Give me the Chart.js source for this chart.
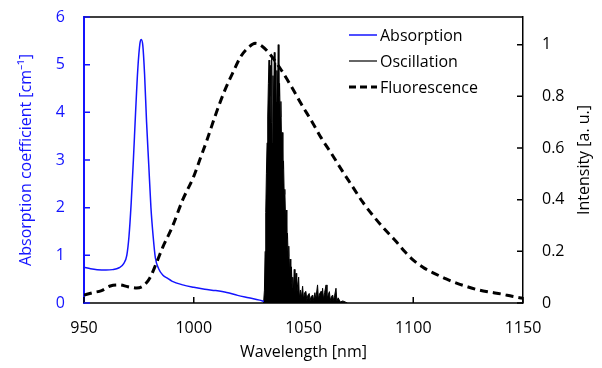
<!DOCTYPE html>
<html lang="en">
<head>
    <meta charset="UTF-8">
    <title>Absorption / Oscillation / Fluorescence</title>
    <script src="https://cdn.jsdelivr.net/npm/chart.js"></script>
    <style>
        body { margin: 0; background: #fff; }
        #specChart { display: block; }
    </style>
</head>
<body>

    <canvas id="specChart" width="602" height="368"></canvas>

    <script>
        // absorption coefficient [cm-1], left axis
        const absWl  = [950, 953, 956, 960, 963, 966, 968, 969.5, 970.5, 971.5, 972.5, 973.5, 974.5, 975.5, 976.1,
                        976.8, 977.6, 978.5, 979.5, 980.5, 981.5, 982.5, 984, 986, 988, 990, 995, 1000, 1005, 1010,
                        1015, 1020, 1025, 1030, 1032];
        const absVal = [0.75, 0.72, 0.70, 0.69, 0.70, 0.74, 0.82, 1.0, 1.4, 2.1, 3.0, 4.0, 4.9, 5.45, 5.53,
                        5.4, 4.8, 3.8, 2.9, 2.0, 1.4, 0.95, 0.72, 0.58, 0.52, 0.46, 0.38, 0.33, 0.29, 0.26,
                        0.22, 0.16, 0.11, 0.06, 0.03];

        // laser oscillation spectrum, right axis
        const oscWl  = [1031.8, 1032.2, 1032.5, 1032.8, 1033.1, 1033.4, 1033.7, 1034.0, 1034.3, 1034.6, 1034.9,
                        1035.2, 1035.5, 1035.8, 1036.1, 1036.4, 1036.7, 1037.0, 1037.3, 1037.6, 1037.9, 1038.2,
                        1038.5, 1038.8, 1039.1, 1039.4, 1039.7, 1040.0, 1040.3, 1040.6, 1040.9, 1041.2, 1041.5,
                        1041.8, 1042.1, 1042.4, 1042.7, 1043.0, 1043.3, 1043.6, 1043.9, 1044.2, 1044.5, 1044.8,
                        1045.1, 1045.4, 1045.8, 1046.1, 1046.6, 1046.9, 1047.3, 1047.8, 1048.1, 1048.6, 1049.0,
                        1049.6, 1050.0, 1050.5, 1051.1, 1051.5, 1052.0, 1052.6, 1053.0, 1053.5, 1054.2, 1054.6,
                        1055.2, 1055.6, 1056.4, 1056.8, 1057.3, 1058.0, 1058.3, 1058.7, 1059.1, 1059.6, 1060.3,
                        1060.7, 1061.2, 1061.8, 1062.2, 1062.7, 1063.3, 1063.7, 1064.2, 1064.8, 1065.2, 1065.8,
                        1066.3, 1066.8, 1067.9, 1069, 1070];
        const oscVal = [0, 0.05, 0.2, 0.35, 0.5, 0.62, 0.72, 0.85, 0.94, 0.80, 0.92,
                        0.70, 0.95, 0.62, 0.88, 0.75, 0.97, 0.80, 0.93, 0.78, 0.90, 0.82,
                        1.0, 0.80, 0.85, 0.72, 0.78, 0.62, 0.66, 0.52, 0.55, 0.42, 0.44,
                        0.33, 0.36, 0.25, 0.27, 0.18, 0.22, 0.12, 0.17, 0.08, 0.14, 0.06,
                        0.10, 0.05, 0.13, 0.04, 0.115, 0.03, 0.07, 0.10, 0.02, 0.05, 0.02,
                        0.065, 0.015, 0.04, 0.045, 0.01, 0.03, 0.037, 0.01, 0.025, 0.031, 0.01,
                        0.04, 0.015, 0.07, 0.015, 0.035, 0.045, 0.02, 0.057, 0.015, 0.04, 0.07,
                        0.015, 0.03, 0.044, 0.01, 0.025, 0.031, 0.01, 0.03, 0.057, 0.008, 0.02,
                        0.012, 0.004, 0.008, 0.004, 0];

        // fluorescence, right axis
        const fluWl  = [950, 954, 958, 962, 966, 970, 974, 977, 980, 983, 986, 990, 995, 1000, 1003, 1006, 1010,
                        1014, 1018, 1021.5, 1025, 1028, 1031, 1035, 1040, 1045, 1049, 1054, 1058, 1063, 1067, 1072,
                        1077, 1082, 1087, 1092, 1096, 1100, 1105, 1110, 1115, 1120, 1125, 1130, 1135, 1140, 1145, 1150];
        const fluVal = [0.031, 0.04, 0.048, 0.066, 0.07, 0.063, 0.058, 0.066, 0.097, 0.155, 0.218, 0.29, 0.40, 0.49,
                        0.56, 0.63, 0.73, 0.82, 0.895, 0.955, 0.99, 1.005, 0.995, 0.96, 0.90, 0.83, 0.77, 0.70, 0.64,
                        0.575, 0.52, 0.455, 0.39, 0.335, 0.285, 0.24, 0.20, 0.166, 0.135, 0.113, 0.093, 0.076, 0.062, 0.05,
                        0.042, 0.035, 0.026, 0.018];

        const xTicks = [950, 1000, 1050, 1100, 1150];
        const leftTicks = [0, 1, 2, 3, 4, 5, 6];
        const rightTicks = [0, 0.2, 0.4, 0.6, 0.8, 1];

        const BLUE = '#1414ff';
        const FONT = { family: 'Open Sans', size: 16 };

        const toXY = (xs, ys) => xs.map((x, i) => ({ x: x, y: ys[i] }));

        // keep the plot box where the reference has it
        const noPad = s => { s.paddingTop = 0; s.paddingBottom = 0; };

        // top frame line, inward tick marks, right title and the legend inside the plot
        const framePlugin = {
            id: 'frame',
            afterDatasetsDraw(chart) {
                const ctx = chart.ctx;
                const a = chart.chartArea;
                const sx = chart.scales.x, sl = chart.scales.yL, sr = chart.scales.yR;
                ctx.save();
                ctx.lineWidth = 1.5;
                ctx.strokeStyle = '#000';
                ctx.beginPath();
                ctx.moveTo(a.left, a.top); ctx.lineTo(a.right, a.top);
                ctx.moveTo(a.left, a.bottom); ctx.lineTo(a.right, a.bottom);
                ctx.stroke();

                // ticks pointing into the plot
                ctx.beginPath();
                xTicks.forEach(v => {
                    const px = sx.getPixelForValue(v);
                    ctx.moveTo(px, a.bottom); ctx.lineTo(px, a.bottom - 6);
                });
                rightTicks.forEach(v => {
                    const py = sr.getPixelForValue(v);
                    ctx.moveTo(a.right, py); ctx.lineTo(a.right - 6, py);
                });
                ctx.stroke();
                ctx.strokeStyle = BLUE;
                ctx.beginPath();
                leftTicks.forEach(v => {
                    const py = sl.getPixelForValue(v);
                    ctx.moveTo(a.left, py); ctx.lineTo(a.left + 6, py);
                });
                ctx.stroke();

                // right axis title, reading bottom to top
                ctx.font = '16px "Open Sans"';
                ctx.fillStyle = '#000';
                ctx.textAlign = 'center';
                ctx.textBaseline = 'middle';
                ctx.save();
                ctx.translate(584, (a.top + a.bottom) / 2);
                ctx.rotate(-Math.PI / 2);
                ctx.fillText('Intensity [a. u.]', 0, 0);
                ctx.restore();

                // legend
                const items = [
                    { label: 'Absorption', color: BLUE, width: 1.5, dash: [] },
                    { label: 'Oscillation', color: '#333', width: 1.5, dash: [] },
                    { label: 'Fluorescence', color: '#000', width: 3, dash: [7, 4] }
                ];
                ctx.textAlign = 'left';
                items.forEach((it, i) => {
                    const y = 35 + i * 26;
                    ctx.strokeStyle = it.color;
                    ctx.lineWidth = it.width;
                    ctx.setLineDash(it.dash);
                    ctx.beginPath();
                    ctx.moveTo(349, y); ctx.lineTo(377, y);
                    ctx.stroke();
                    ctx.setLineDash([]);
                    ctx.fillText(it.label, 380, y + 1);
                });
                ctx.restore();
            }
        };

        new Chart(document.getElementById('specChart'), {
            type: 'line',
            data: {
                datasets: [
                    {
                        label: 'Fluorescence',
                        data: toXY(fluWl, fluVal),
                        yAxisID: 'yR',
                        borderColor: '#000',
                        borderWidth: 3,
                        borderDash: [8, 5],
                        pointRadius: 0,
                        cubicInterpolationMode: 'monotone',
                        order: 0
                    },
                    {
                        label: 'Absorption',
                        data: toXY(absWl, absVal),
                        yAxisID: 'yL',
                        borderColor: BLUE,
                        borderWidth: 1.5,
                        pointRadius: 0,
                        cubicInterpolationMode: 'monotone',
                        order: 1
                    },
                    {
                        label: 'Oscillation',
                        data: toXY(oscWl, oscVal),
                        yAxisID: 'yR',
                        borderColor: '#000',
                        backgroundColor: '#000',
                        borderWidth: 1,
                        pointRadius: 0,
                        tension: 0,
                        fill: 'origin',
                        order: 2
                    }
                ]
            },
            options: {
                responsive: false,
                animation: false,
                layout: { padding: { top: 17, left: 0, right: 0, bottom: 0 } },
                plugins: { legend: { display: false }, tooltip: { enabled: false } },
                scales: {
                    x: {
                        type: 'linear',
                        min: 950, max: 1150,
                        grid: { display: false, drawTicks: false },
                        border: { display: false },
                        afterBuildTicks: s => { s.ticks = xTicks.map(v => ({ value: v })); },
                        afterFit: s => { s.height = 65; },
                        ticks: { font: FONT, color: '#000', padding: 16, maxRotation: 0, callback: v => String(v) },
                        title: { display: true, text: 'Wavelength [nm]', font: FONT, color: '#000', padding: { top: 0, bottom: 6 } }
                    },
                    yL: {
                        position: 'left',
                        min: 0, max: 6,
                        grid: { display: false, drawTicks: false },
                        border: { display: true, color: BLUE, width: 2 },
                        afterBuildTicks: s => { s.ticks = leftTicks.map(v => ({ value: v })); },
                        afterFit: s => { s.width = 84; noPad(s); },
                        ticks: { font: FONT, color: BLUE, padding: 19 },
                        title: { display: true, text: 'Absorption coefficient [cm\u207B\u00B9]', font: FONT, color: BLUE, padding: { top: 17, bottom: 0 } }
                    },
                    yR: {
                        position: 'right',
                        min: 0, max: 1.107,
                        grid: { display: false, drawTicks: false },
                        border: { display: true, color: '#000', width: 1.5 },
                        afterBuildTicks: s => { s.ticks = rightTicks.map(v => ({ value: v })); },
                        afterFit: s => { s.width = 79; noPad(s); },
                        ticks: { font: FONT, color: '#000', padding: 19, callback: v => String(v) }
                    }
                }
            },
            plugins: [framePlugin]
        });
    </script>

</body>
</html>
